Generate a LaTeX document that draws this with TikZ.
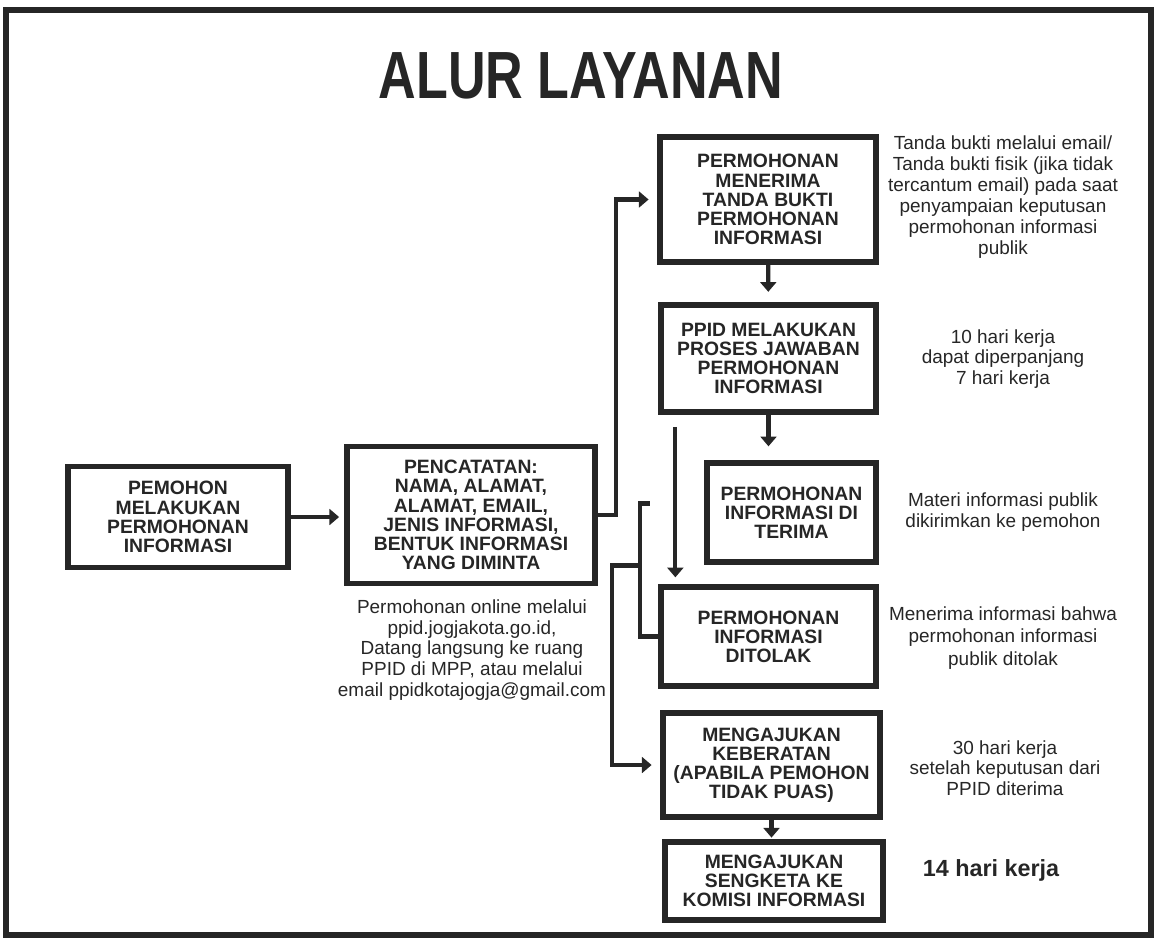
\documentclass[tikz,border=0pt]{standalone}
\usepackage{fontspec}
\usepackage{graphicx}
\setmainfont{Liberation Sans}
\usetikzlibrary{arrows.meta,calc}
\newcommand\px{0.02cm}
\begin{document}
\begin{tikzpicture}[x=\px,y=-\px,color=black!85,
    box/.style={draw,line width=3pt,align=center,inner sep=2pt,
      font=\fontsize{11}{10.9}\selectfont\bfseries},
    note/.style={align=center,font=\fontsize{10.8}{11.7}\selectfont},
    arr/.style={line width=2.4pt,-{Triangle[length=5.5pt,width=9pt]},shorten >=3pt},
    conn/.style={line width=2.4pt}]
  \useasboundingbox (0,0) rectangle (1158,941);
  \draw[line width=3pt] (6,10) rectangle (1151,935);

  \node (judul) at (581,76)
    {\fontsize{38}{38}\selectfont\bfseries\scalebox{0.78}[1]{ALUR LAYANAN}};

  \node[box,minimum width=220*\px,minimum height=101*\px] (pemohon) at (178,517)
    {PEMOHON\\MELAKUKAN\\PERMOHONAN\\INFORMASI};
  \node[box,minimum width=248*\px,minimum height=137*\px] (catat) at (471,515)
    {PENCATATAN:\\NAMA, ALAMAT,\\ALAMAT, EMAIL,\\JENIS INFORMASI,\\BENTUK INFORMASI\\YANG DIMINTA};
  \node[box,minimum width=216*\px,minimum height=125*\px] (bukti) at (768,199.5)
    {PERMOHONAN\\MENERIMA\\TANDA BUKTI\\PERMOHONAN\\INFORMASI};
  \node[box,minimum width=215*\px,minimum height=107*\px] (proses) at (768.5,358.5)
    {PPID MELAKUKAN\\PROSES JAWABAN\\PERMOHONAN\\INFORMASI};
  \node[box,minimum width=169*\px,minimum height=99*\px] (terima) at (791.5,512.5)
    {PERMOHONAN\\INFORMASI DI\\TERIMA};
  \node[box,minimum width=215*\px,minimum height=99*\px] (tolak) at (768.5,636.5)
    {PERMOHONAN\\INFORMASI\\DITOLAK};
  \node[box,minimum width=217*\px,minimum height=104*\px] (keberatan) at (771.5,765)
    {MENGAJUKAN\\KEBERATAN\\(APABILA PEMOHON\\TIDAK PUAS)};
  \node[box,minimum width=218*\px,minimum height=78*\px] (sengketa) at (774,881)
    {MENGAJUKAN\\SENGKETA KE\\KOMISI INFORMASI};

  \node[note] (ncatat) at (472,650)
    {Permohonan online melalui\\ppid.jogjakota.go.id,\\Datang langsung ke ruang\\PPID di MPP, atau melalui\\email ppidkotajogja@gmail.com};
  \node[note,font=\fontsize{10.8}{12}\selectfont] (nbukti) at (1003,197)
    {Tanda bukti melalui email/\\Tanda bukti fisik (jika tidak\\tercantum email) pada saat\\penyampaian keputusan\\permohonan informasi\\publik};
  \node[note] (nproses) at (1003,359) {10 hari kerja\\dapat diperpanjang\\7 hari kerja};
  \node[note] (nterima) at (1003,512) {Materi informasi publik\\dikirimkan ke pemohon};
  \node[note,font=\fontsize{10.8}{12.6}\selectfont] (ntolak) at (1003,638)
    {Menerima informasi bahwa\\permohonan informasi\\publik ditolak};
  \node[note] (nkeberatan) at (1005,768) {30 hari kerja\\setelah keputusan dari\\PPID diterima};
  \node[note,font=\fontsize{13.3}{14}\selectfont\bfseries] (nsengketa) at (991,870) {14 hari kerja};

  \draw[arr] (pemohon.east) -- (pemohon.east -| catat.west);
  \draw[arr,shorten >=5pt] (catat.east) -- ++(18,0) |- (bukti);
  \draw[arr,shorten >=6pt] (bukti) -- (proses);
  \draw[arr,shorten >=8pt] (proses.south) -- (proses.south |- terima.north);
  \draw[arr,shorten <=7pt,shorten >=4pt]
    ($(proses.south west)+(17,0)$) -- ($(tolak.north west)+(17,0)$);
  \draw[conn] (tolak.west) -- ++(-18,0) coordinate (b1) -- ++(0,-133) -- ++(10,0);
  \coordinate (fork) at ($(b1)+(0,-71)$);
  \draw[arr,shorten >=5pt] (fork) -- ++(-28,0) |- (keberatan);
  \draw[arr,shorten >=1pt] (keberatan.south) -- (keberatan.south |- sengketa.north);
\end{tikzpicture}
\end{document}
